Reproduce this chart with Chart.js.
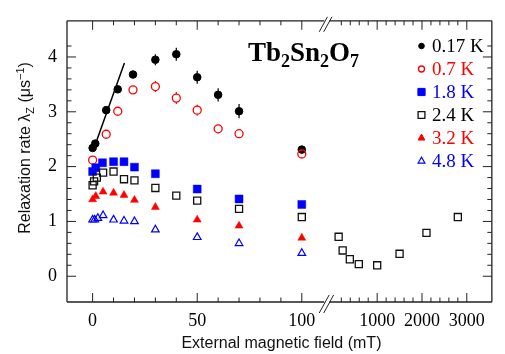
<!DOCTYPE html>
<html><head><meta charset="utf-8">
<script src="https://cdn.jsdelivr.net/npm/chart.js@4.4.1/dist/chart.umd.min.js"></script>
<style>html,body{margin:0;padding:0;background:#fff}</style>
</head><body>
<canvas id="c" width="505" height="354"></canvas>
<script>
// ---- data (field in mT, relaxation rate in 1/us) ----
const seriesLabels = ['0.17 K', '0.7 K', '1.8 K', '2.4 K', '3.2 K', '4.8 K'];

const field_017 = [0, 1.25, 6.5, 12, 19.3, 30, 40, 50, 60, 70, 100];
const rate_017  = [2.34, 2.42, 3.03, 3.41, 3.68, 3.95, 4.05, 3.63, 3.31, 3.01, 2.31];
const err_017   = [0.03, 0.03, 0.04, 0.05, 0.06, 0.10, 0.12, 0.12, 0.12, 0.13, 0.07];

const field_07 = [0, 6.5, 12, 19.3, 30, 40, 50, 60, 70, 100];
const rate_07  = [2.12, 2.59, 3.01, 3.40, 3.46, 3.25, 3.03, 2.69, 2.60, 2.23];
const err_07   = [0.03, 0.04, 0.05, 0.06, 0.10, 0.11, 0.10, 0.08, 0.06, 0.06];

const field_18 = [0, 1.5, 4.7, 10, 15, 20, 30, 50, 70, 100];
const rate_18  = [1.91, 1.98, 2.07, 2.09, 2.09, 1.99, 1.87, 1.59, 1.41, 1.31];

const field_24 = [0, 0.7, 2, 5, 10, 15, 20, 30, 40, 50, 70, 100];
const rate_24  = [1.66, 1.73, 1.80, 1.89, 1.91, 1.77, 1.75, 1.61, 1.47, 1.38, 1.23, 1.08];
const field_24_high = [140, 230, 390, 590, 1000, 1500, 2100, 2800];
const rate_24_high  = [0.72, 0.47, 0.31, 0.22, 0.20, 0.41, 0.79, 1.08];

const field_32 = [0, 1.5, 5, 10, 15, 20, 30, 50, 70, 100];
const rate_32  = [1.40, 1.46, 1.54, 1.52, 1.48, 1.39, 1.26, 1.03, 0.92, 0.70];

const field_48 = [0, 1, 2.5, 5, 10, 15, 20, 30, 50, 70, 100];
const rate_48  = [1.03, 1.03, 1.06, 1.11, 1.03, 1.01, 1.00, 0.85, 0.71, 0.60, 0.42];

// linear fit drawn through the low-field 0.17 K points
const fit_field = [0.3, 15.2];
const fit_rate  = [2.30, 3.89];

// tick labels
const xTicksLow  = [0, 50, 100];
const xTicksHigh = [1000, 2000, 3000];
const yTicks     = [0, 1, 2, 3, 4];

// ---- styling ----
const RED = 'rgb(255,0,0)', BLUE = 'rgb(0,0,255)', BLACK = '#000';
const SERIF = "'Liberation Serif','Times New Roman',serif";
const SANS = "'Liberation Sans',Arial,sans-serif";

function pts(xs, ys) { return xs.map((x, i) => ({ x: x, y: ys[i] })); }

const styles = [
  { pointStyle: 'circle', pointRadius: 3.8, backgroundColor: BLACK, borderColor: BLACK, borderWidth: 1 },
  { pointStyle: 'circle', pointRadius: 4.0, backgroundColor: 'rgba(0,0,0,0)', borderColor: RED, borderWidth: 1.3 },
  { pointStyle: 'rect', pointRadius: 5.6, backgroundColor: BLUE, borderColor: BLUE, borderWidth: 0.5 },
  { pointStyle: 'rect', pointRadius: 5.0, backgroundColor: 'rgba(0,0,0,0)', borderColor: '#111', borderWidth: 1.3 },
  { pointStyle: 'triangle', pointRadius: 4.6, backgroundColor: RED, borderColor: RED, borderWidth: 0.5 },
  { pointStyle: 'triangle', pointRadius: 4.4, backgroundColor: 'rgba(0,0,0,0)', borderColor: BLUE, borderWidth: 1.2 }
];

function ds(i, data, extra) {
  const s = styles[i];
  return Object.assign({
    label: seriesLabels[i], data: data, showLine: false,
    pointStyle: s.pointStyle, pointRadius: s.pointRadius, pointHoverRadius: s.pointRadius,
    pointBackgroundColor: s.backgroundColor, pointBorderColor: s.borderColor, pointBorderWidth: s.borderWidth,
    backgroundColor: s.backgroundColor, borderColor: s.borderColor, xAxisID: 'x', yAxisID: 'y'
  }, extra || {});
}

const datasets = [
  { label: 'fit', data: pts(fit_field, fit_rate), showLine: true, pointRadius: 0, borderColor: '#000', borderWidth: 1.5, xAxisID: 'x', yAxisID: 'y' },
  ds(5, pts(field_48, rate_48)),
  ds(4, pts(field_32, rate_32)),
  ds(3, pts(field_24, rate_24)),
  ds(3, pts(field_24_high, rate_24_high), { xAxisID: 'x2' }),
  ds(2, pts(field_18, rate_18)),
  ds(1, pts(field_07, rate_07), { errorBars: err_07 }),
  ds(0, pts(field_017, rate_017), { errorBars: err_017 })
];

function drawMarker(ctx, style, x, y, r) {
  ctx.beginPath();
  if (style.pointStyle === 'circle') {
    ctx.arc(x, y, r, 0, Math.PI * 2);
  } else if (style.pointStyle === 'rect') {
    ctx.rect(x - r, y - r, 2 * r, 2 * r);
  } else {
    ctx.moveTo(x, y - r * 1.15); ctx.lineTo(x + r, y + r * 0.6); ctx.lineTo(x - r, y + r * 0.6); ctx.closePath();
  }
  ctx.fillStyle = style.backgroundColor; ctx.fill();
  ctx.strokeStyle = style.borderColor; ctx.lineWidth = Math.max(1, style.borderWidth); ctx.stroke();
}

function drawRich(ctx, parts, x, y, align) {
  let total = 0;
  parts.forEach(p => { ctx.font = p.font; p.w = ctx.measureText(p.text).width; total += p.w; });
  let cx = align === 'center' ? x - total / 2 : x;
  parts.forEach(p => { ctx.font = p.font; ctx.fillText(p.text, cx, y + (p.dy || 0)); cx += p.w; });
}

const decor = {
  id: 'decor',
  beforeDatasetsDraw(chart) {
    const ctx = chart.ctx, Y = chart.scales.y;
    chart.data.datasets.forEach(d => {
      if (!d.errorBars) return;
      const X = chart.scales[d.xAxisID];
      const r = d.pointRadius;
      ctx.save(); ctx.strokeStyle = d.borderColor; ctx.lineWidth = 1.2;
      d.data.forEach((p, j) => {
        const e = d.errorBars[j]; if (!e) return;
        const px = X.getPixelForValue(p.x), pc = Y.getPixelForValue(p.y);
        const pTop = Y.getPixelForValue(p.y + e), pBot = Y.getPixelForValue(p.y - e);
        ctx.beginPath();
        if (pTop < pc - r) { ctx.moveTo(px, pTop); ctx.lineTo(px, pc - r); }
        if (pBot > pc + r) { ctx.moveTo(px, pc + r); ctx.lineTo(px, pBot); }
        ctx.stroke();
      });
      ctx.restore();
    });
  },
  afterDraw(chart) {
    const ctx = chart.ctx, a = chart.chartArea;
    const X = chart.scales.x, X2 = chart.scales.x2, Y = chart.scales.y;
    const sx = X.right;
    ctx.save();
    ctx.strokeStyle = '#222'; ctx.lineCap = 'butt';
    // frame with break gap
    ctx.lineWidth = 1.3;
    const gapL = sx - 1, gapR = sx + 4;
    ctx.beginPath();
    ctx.moveTo(a.left, a.top); ctx.lineTo(gapL, a.top); ctx.moveTo(gapR, a.top); ctx.lineTo(a.right, a.top);
    ctx.moveTo(a.left, a.bottom); ctx.lineTo(gapL, a.bottom); ctx.moveTo(gapR, a.bottom); ctx.lineTo(a.right, a.bottom);
    ctx.moveTo(a.left, a.top); ctx.lineTo(a.left, a.bottom);
    ctx.moveTo(a.right, a.top); ctx.lineTo(a.right, a.bottom);
    ctx.stroke();
    // ticks (inward)
    ctx.lineWidth = 1;
    const MAJ = 9, MIN = 4.5;
    function vt(px, len) {
      ctx.beginPath(); ctx.moveTo(px, a.bottom); ctx.lineTo(px, a.bottom - len);
      ctx.moveTo(px, a.top); ctx.lineTo(px, a.top + len); ctx.stroke();
    }
    function ht(py, len) {
      ctx.beginPath(); ctx.moveTo(a.left, py); ctx.lineTo(a.left + len, py);
      ctx.moveTo(a.right, py); ctx.lineTo(a.right - len, py); ctx.stroke();
    }
    for (let k = 0; k <= 10; k++) { const v = k * 10; vt(X.getPixelForValue(v), xTicksLow.includes(v) ? MAJ : MIN); }
    for (let k = 1; k <= 15; k++) { const v = k * 200; vt(X2.getPixelForValue(v), xTicksHigh.includes(v) ? MAJ : MIN); }
    for (let k = 0; k <= 21; k++) { const v = k / 5; ht(Y.getPixelForValue(v), k % 5 === 0 ? MAJ : MIN); }
    // break marks
    ctx.lineWidth = 1;
    [[a.bottom, 11, 7], [a.top, 11, 4]].forEach(([yy, below, above]) => {
      for (let k = 0; k < 2; k++) {
        const x0 = sx - 6 + k * 4.5;
        ctx.beginPath();
        ctx.moveTo(x0, yy + below);
        ctx.lineTo(x0 + (below + above) * 0.55, yy - above);
        ctx.stroke();
      }
    });
    // legend
    ctx.textBaseline = 'middle'; ctx.textAlign = 'left';
    const legColors = [BLACK, RED, BLUE, BLACK, RED, BLUE];
    const legR = [2.8, 3.0, 3.6, 3.4, 3.4, 3.4];
    seriesLabels.forEach((lab, i) => {
      const yy = 46 + i * 23;
      drawMarker(ctx, styles[i], 421.5, yy, legR[i]);
      ctx.fillStyle = legColors[i];
      ctx.font = '19px ' + SERIF;
      ctx.fillText(lab, 432, yy + 1);
    });
    // title
    ctx.fillStyle = '#000'; ctx.textBaseline = 'alphabetic';
    const big = 'bold 27px ' + SERIF, sub = 'bold 18px ' + SERIF;
    drawRich(ctx, [
      { text: 'Tb', font: big }, { text: '2', font: sub, dy: 6 },
      { text: 'Sn', font: big }, { text: '2', font: sub, dy: 6 },
      { text: 'O', font: big }, { text: '7', font: sub, dy: 6 }
    ], 248, 61, 'left');
    // x axis title
    ctx.fillStyle = '#111';
    drawRich(ctx, [{ text: 'External magnetic field (mT)', font: '16px ' + SANS }], (a.left + a.right) / 2 + 2, 348, 'center');
    // y axis title
    ctx.save();
    ctx.translate(30, 148); ctx.rotate(-Math.PI / 2);
    drawRich(ctx, [
      { text: 'Relaxation rate λ', font: '16px ' + SANS },
      { text: 'Z', font: '11px ' + SANS, dy: 4 },
      { text: ' (μs', font: '16px ' + SANS },
      { text: '−1', font: '11px ' + SANS, dy: -6 },
      { text: ')', font: '16px ' + SANS }
    ], 0, 0, 'center');
    ctx.restore();
    ctx.restore();
  }
};

const tickFont = { family: SERIF, size: 18 };
function fixTicks(values) { return s => { s.ticks = values.map(v => ({ value: v })); }; }
const plainLabel = v => String(v);

new Chart(document.getElementById('c'), {
  type: 'scatter',
  data: { datasets: datasets },
  options: {
    responsive: false, devicePixelRatio: 1, animation: false,
    layout: { padding: { top: 20, right: 2, left: 0, bottom: 0 } },
    plugins: { legend: { display: false }, tooltip: { enabled: false } },
    scales: {
      x: {
        type: 'linear', position: 'bottom', stack: 'field', stackWeight: 265,
        min: -12.25, max: 111.2,
        afterBuildTicks: fixTicks(xTicksLow),
        afterFit: s => { s.height = 52; },
        grid: { display: false, drawTicks: false }, border: { display: false },
        ticks: { font: tickFont, color: '#000', padding: 8, maxRotation: 0, autoSkip: false, callback: plainLabel }
      },
      x2: {
        type: 'linear', position: 'bottom', stack: 'field', stackWeight: 171,
        min: -159, max: 3559,
        afterBuildTicks: fixTicks(xTicksHigh),
        afterFit: s => { s.height = 52; },
        grid: { display: false, drawTicks: false }, border: { display: false },
        ticks: { font: tickFont, color: '#000', padding: 8, maxRotation: 0, autoSkip: false, callback: plainLabel }
      },
      y: {
        type: 'linear', position: 'left', min: -0.47, max: 4.66,
        afterBuildTicks: fixTicks(yTicks),
        afterFit: s => { s.width = 67; },
        grid: { display: false, drawTicks: false }, border: { display: false },
        ticks: { font: tickFont, color: '#000', padding: 10, callback: plainLabel }
      }
    }
  },
  plugins: [decor]
});
</script>
</body></html>
